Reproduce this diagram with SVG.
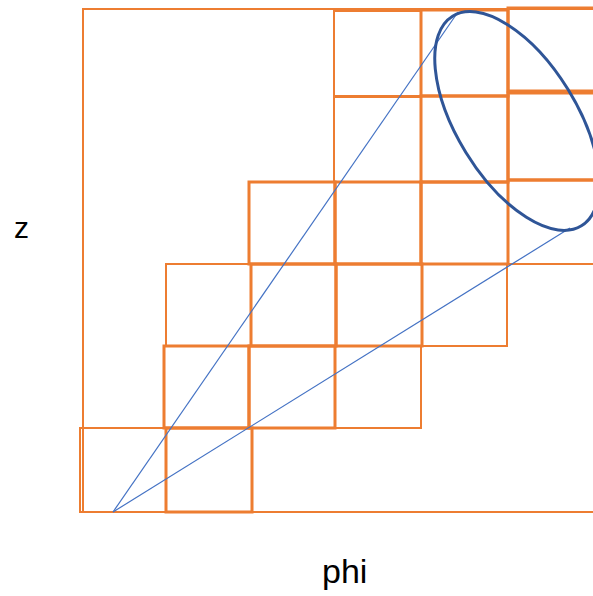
<svg xmlns="http://www.w3.org/2000/svg" width="593" height="596" viewBox="0 0 593 596">
<style>
.c{fill:none;stroke:#ED7D31;stroke-width:3}
.t{fill:none;stroke:#ED7D31;stroke-width:2}
.l{stroke:#4472C4;stroke-width:1.2;fill:none}
.e{fill:none;stroke:#2F5597;stroke-width:3}
text{font-family:"Liberation Sans",Arial,sans-serif;fill:#000}
</style>
<rect width="593" height="596" fill="#fff"/>
<g id="outer"><rect class="t" x="83" y="9" width="540" height="503"/></g>
<g id="cells">
<rect class="t" x="80" y="428" width="86" height="84"/>
<rect class="c" x="166" y="428" width="86" height="84"/>
<rect class="c" x="164" y="346" width="85" height="82"/>
<rect class="c" x="249" y="346" width="86" height="82"/>
<rect class="t" x="335" y="346" width="86" height="82"/>
<rect class="t" x="166" y="264" width="85" height="82"/>
<rect class="c" x="251" y="264" width="85" height="82"/>
<rect class="c" x="336" y="264" width="86" height="82"/>
<rect class="t" x="422" y="264" width="85" height="82"/>
<line class="t" x1="507" y1="264" x2="593" y2="264"/>
<rect class="c" x="249" y="182" width="86" height="82"/>
<rect class="c" x="335" y="182" width="86" height="82"/>
<rect class="c" x="421" y="182" width="87" height="82"/>
<line class="c" x1="508" y1="180" x2="593" y2="180"/>
<rect class="t" x="334" y="97" width="87" height="85"/>
<rect class="c" x="421" y="96" width="87" height="86"/>
<rect class="c" x="508" y="93" width="90" height="87"/>
<rect class="t" x="334" y="11" width="87" height="85"/>
<rect class="c" x="421" y="10" width="87" height="86"/>
<rect class="c" x="508" y="8" width="90" height="83"/>
</g>
<g id="connectors">
<line class="l" x1="113" y1="512" x2="458" y2="12"/>
<line class="l" x1="113" y1="512" x2="570" y2="228"/>
</g>
<g id="ellipse"><ellipse class="e" cx="517" cy="121" rx="123" ry="60" transform="rotate(58.4 517 121)"/></g>
<g id="labels">
<text x="14" y="238" font-size="30">z</text>
<text x="322" y="583" font-size="34">phi</text>
</g>
</svg>
